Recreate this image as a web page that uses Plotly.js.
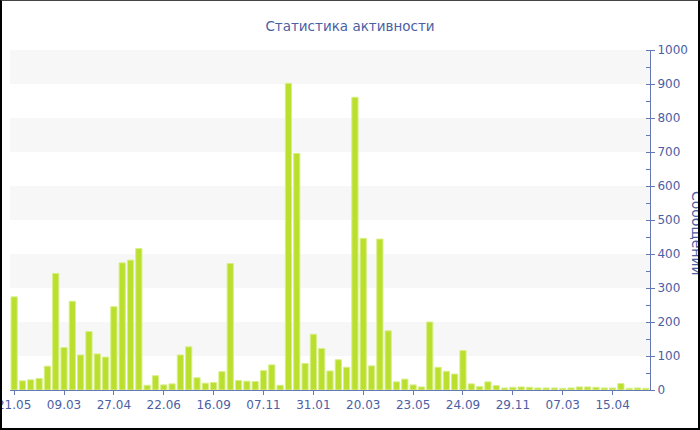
<!DOCTYPE html>
<html>
<head>
<meta charset="utf-8">
<script src="https://cdn.plot.ly/plotly-3.0.1.min.js"></script>
<style>
  html, body { margin: 0; padding: 0; background: #fff; }
  #wrap { position: relative; width: 700px; height: 430px; }
  #chart { width: 700px; height: 430px; }
  #frame { position: absolute; left: 0; top: 0; width: 700px; height: 430px; box-sizing: border-box;
           border-left: 2px solid #000; border-right: 2px solid #000; border-bottom: 2px solid #000;
           border-top: 1px solid #444; pointer-events: none; }
</style>
</head>
<body>
<div id="wrap">
  <div id="chart"></div>
  <div id="frame"></div>
</div>
<script>
// Messages per period
const messages = [
  274, 27, 30, 34, 70, 343, 125, 261, 103, 172,
  106, 97, 245, 374, 382, 416, 14, 42, 15, 18,
  103, 127, 36, 20, 22, 54, 372, 28, 26, 25,
  57, 74, 14, 902, 696, 78, 164, 122, 56, 89,
  67, 861, 446, 71, 444, 174, 24, 32, 15, 9,
  200, 67, 55, 47, 116, 18, 10, 24, 13, 6,
  8, 9, 8, 6, 6, 6, 5, 6, 9, 9,
  8, 6, 6, 19, 5, 6, 5
];
// Labelled ticks (every sixth period)
const tickLabels = ["21.05", "09.03", "27.04", "22.06", "16.09", "07.11", "31.01",
                    "20.03", "23.05", "24.09", "29.11", "07.03", "15.04"];
const tickStep = 6;

const xIdx = messages.map((_, i) => i);
const tickVals = tickLabels.map((_, i) => i * tickStep);

const blue = '#4b60a4';
const lineBlue = '#6378b4';

const bands = [];
for (let k = 1; k < 10; k += 2) {
  bands.push({type: 'rect', xref: 'paper', x0: 0, x1: 1, yref: 'y', y0: k * 100, y1: (k + 1) * 100,
              fillcolor: '#f7f7f7', line: {width: 0}, layer: 'below'});
}

const trace = {
  type: 'bar',
  x: xIdx,
  y: messages,
  marker: {color: '#bbdf2e', line: {color: '#d8ef88', width: 1}},
  hoverinfo: 'y'
};

const layout = {
  width: 700, height: 430,
  margin: {l: 10, r: 50, t: 50, b: 40},
  paper_bgcolor: '#ffffff',
  plot_bgcolor: 'rgba(0,0,0,0)',
  font: {family: 'DejaVu Sans, Verdana, sans-serif', size: 12, color: blue},
  title: {text: 'Статистика активности', xref: 'container', x: 0.5, xanchor: 'center',
          yref: 'container', y: 0.94, yanchor: 'middle',
          font: {family: 'DejaVu Sans, Verdana, sans-serif', size: 13.5, color: blue}},
  bargap: 0.25,
  showlegend: false,
  xaxis: {
    range: [-0.5, messages.length - 0.5],
    tickmode: 'array', tickvals: tickVals, ticktext: tickLabels,
    ticklabeloverflow: 'allow',
    showgrid: false, zeroline: false,
    showline: true, linecolor: lineBlue, linewidth: 1,
    ticks: 'outside', ticklen: 4, tickcolor: lineBlue,
    tickfont: {size: 12, color: blue}
  },
  yaxis: {
    side: 'right', range: [0, 1000], dtick: 100, tick0: 0,
    showgrid: false, zeroline: false,
    showline: true, linecolor: lineBlue, linewidth: 1,
    ticks: 'outside', ticklen: 4, tickcolor: lineBlue,
    minor: {dtick: 50, ticks: 'inside', ticklen: 4, tickcolor: lineBlue, showgrid: false},
    tickfont: {size: 12, color: blue}
  },
  shapes: bands,
  annotations: [{
    text: 'Сообщений', xref: 'paper', yref: 'paper',
    x: (697 - 10) / 640, y: 0.462, xanchor: 'center', yanchor: 'middle',
    textangle: 90, showarrow: false,
    font: {size: 14, color: blue}
  }]
};

Plotly.newPlot('chart', [trace], layout, {displayModeBar: false, staticPlot: true});
</script>
</body>
</html>
